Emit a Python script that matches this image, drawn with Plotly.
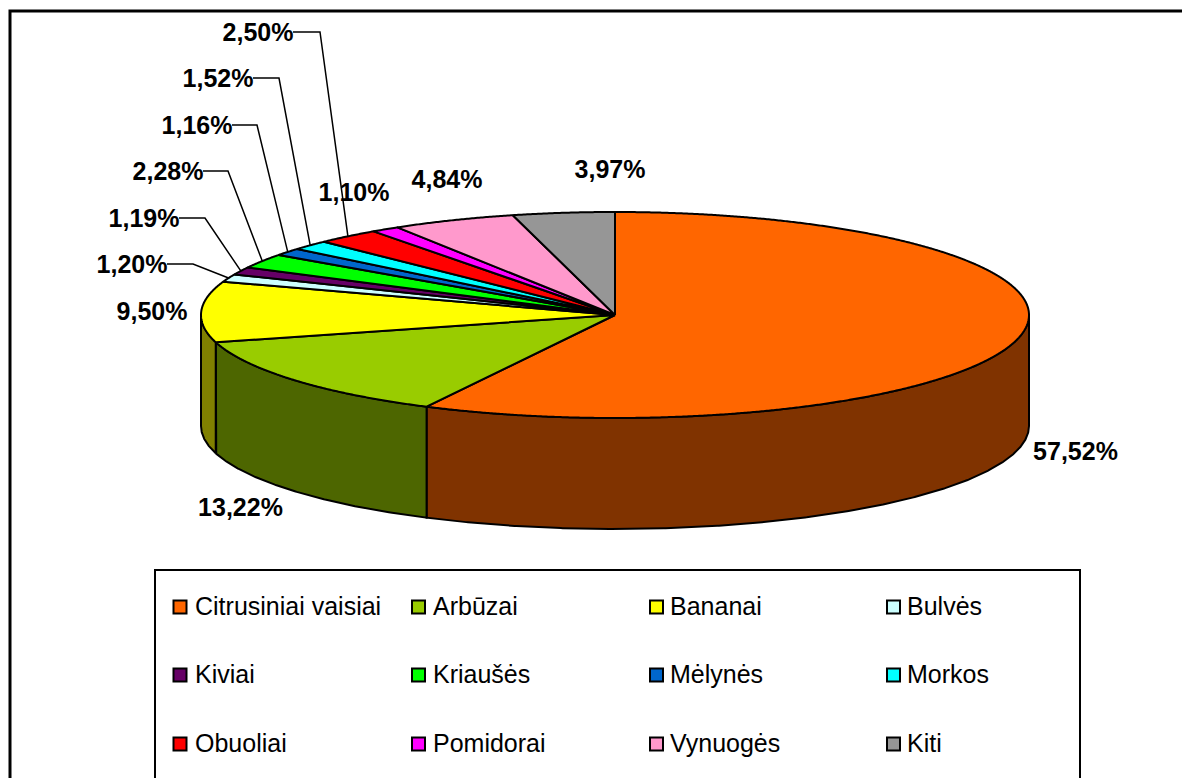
import numpy as np
import plotly.graph_objects as go

# ---- data ----
categories = ["Citrusiniai vaisiai", "Arbūzai", "Bananai", "Bulvės", "Kiviai", "Kriaušės",
              "Mėlynės", "Morkos", "Obuoliai", "Pomidorai", "Vynuogės", "Kiti"]
values = [57.52, 13.22, 9.50, 1.20, 1.19, 2.28, 1.16, 1.52, 2.50, 1.10, 4.84, 3.97]
value_labels = ["57,52%", "13,22%", "9,50%", "1,20%", "1,19%", "2,28%",
                "1,16%", "1,52%", "2,50%", "1,10%", "4,84%", "3,97%"]

# ---- styles ----
top_colors = ["#FF6600", "#99CC00", "#FFFF00", "#CCFFFF", "#660066", "#00FF00",
              "#0066CC", "#00FFFF", "#FF0000", "#FF00FF", "#FF99CC", "#969696"]
side_colors = ["#803300", "#4D6600", "#808000", "#668080", "#330033", "#008000",
               "#003366", "#008080", "#800000", "#800080", "#804D66", "#4B4B4B"]

# ---- layout geometry (canvas units) ----
W, H = 1182, 778
CX, CY, RX, RY, DEPTH = 615, 315, 414, 103, 111
OUT = 2
TEXT_DY = 2
# label centre position for each category
label_pos = [(1075.5, 452), (240.5, 508), (152, 312), (132, 265), (144, 219), (168, 172),
             (197, 126), (218, 79), (258, 33), (354, 193), (447, 180), (610, 170)]
# leader-line knee x for labels that have one (index -> (start x, knee x))
leaders = {3: (167, 193), 4: (179, 205), 5: (203, 228), 6: (232, 257), 7: (253, 279), 8: (293, 320)}
legend_cols_sw = [180, 418.5, 656.5, 893.5]
legend_cols_tx = [195, 433, 670, 907]
legend_rows = [607, 675, 744]


def ell(theta_deg):
    t = np.radians(theta_deg)
    return CX + RX * np.sin(t), CY - RY * np.cos(t)


fig = go.Figure()
edges = np.concatenate([[0], np.cumsum(values)]) * 3.6
edges[-1] = 360.0

# side walls, only for the front half of the pie
for i, name in enumerate(categories):
    a0, a1 = max(edges[i], 90), min(edges[i + 1], 270)
    if a1 <= a0:
        continue
    th = np.linspace(a0, a1, max(int((a1 - a0) * 4), 3))
    x, y = ell(th)
    xs = np.concatenate([x, x[::-1], x[:1]])
    ys = np.concatenate([y, y[::-1] + DEPTH, y[:1]])
    fig.add_trace(go.Scatter(x=xs, y=ys, mode="lines", fill="toself", fillcolor=side_colors[i],
                             line=dict(color="black", width=OUT), name=name, showlegend=False,
                             hoverinfo="skip"))

# top faces
for i, name in enumerate(categories):
    th = np.linspace(edges[i], edges[i + 1], max(int((edges[i + 1] - edges[i]) * 4), 3))
    x, y = ell(th)
    xs = np.concatenate([[CX], x, [CX]])
    ys = np.concatenate([[CY], y, [CY]])
    fig.add_trace(go.Scatter(x=xs, y=ys, mode="lines", fill="toself", fillcolor=top_colors[i],
                             line=dict(color="black", width=OUT, simplify=False), name=name,
                             showlegend=False, text=value_labels[i], hoverinfo="name+text"))

# leader lines: the tip follows the middle of the slice
for i, (x0, knee) in leaders.items():
    tx, ty = ell((edges[i] + edges[i + 1]) / 2)
    yl = label_pos[i][1] - 1
    fig.add_trace(go.Scatter(x=[x0, knee, tx], y=[yl, yl, ty], mode="lines",
                             line=dict(color="black", width=1.5), showlegend=False, hoverinfo="skip"))

# value labels
fig.add_trace(go.Scatter(x=[p[0] for p in label_pos], y=[p[1] + TEXT_DY for p in label_pos],
                         mode="text", text=value_labels, textposition="middle center",
                         textfont=dict(family="Liberation Sans", size=25, color="black", weight="bold"),
                         showlegend=False, hoverinfo="skip"))

# legend
for i, name in enumerate(categories):
    r, c = divmod(i, 4)
    fig.add_trace(go.Scatter(x=[legend_cols_sw[c]], y=[legend_rows[r]], mode="markers",
                             marker=dict(symbol="square", size=13, color=top_colors[i],
                                         line=dict(color="black", width=2)),
                             showlegend=False, hoverinfo="skip"))
    fig.add_trace(go.Scatter(x=[legend_cols_tx[c]], y=[legend_rows[r] + TEXT_DY], mode="text", text=[name],
                             textposition="middle right",
                             textfont=dict(family="Liberation Sans", size=25, color="black"),
                             showlegend=False, hoverinfo="skip"))

fig.update_layout(
    width=W, height=H, margin=dict(l=0, r=0, t=0, b=0), autosize=False,
    paper_bgcolor="white", plot_bgcolor="white",
    xaxis=dict(range=[0, W], visible=False, fixedrange=True),
    yaxis=dict(range=[H, 0], visible=False, fixedrange=True),
    shapes=[
        dict(type="rect", xref="x", yref="y", x0=10, y0=11, x1=W + 20, y1=H + 20,
             line=dict(color="black", width=3), layer="below"),
        dict(type="rect", xref="x", yref="y", x0=155, y0=570, x1=1080, y1=H + 20,
             line=dict(color="black", width=2), layer="below"),
    ],
)
fig.write_html("out.html", config={"displayModeBar": False},
               post_script="document.body.style.margin='0';")
